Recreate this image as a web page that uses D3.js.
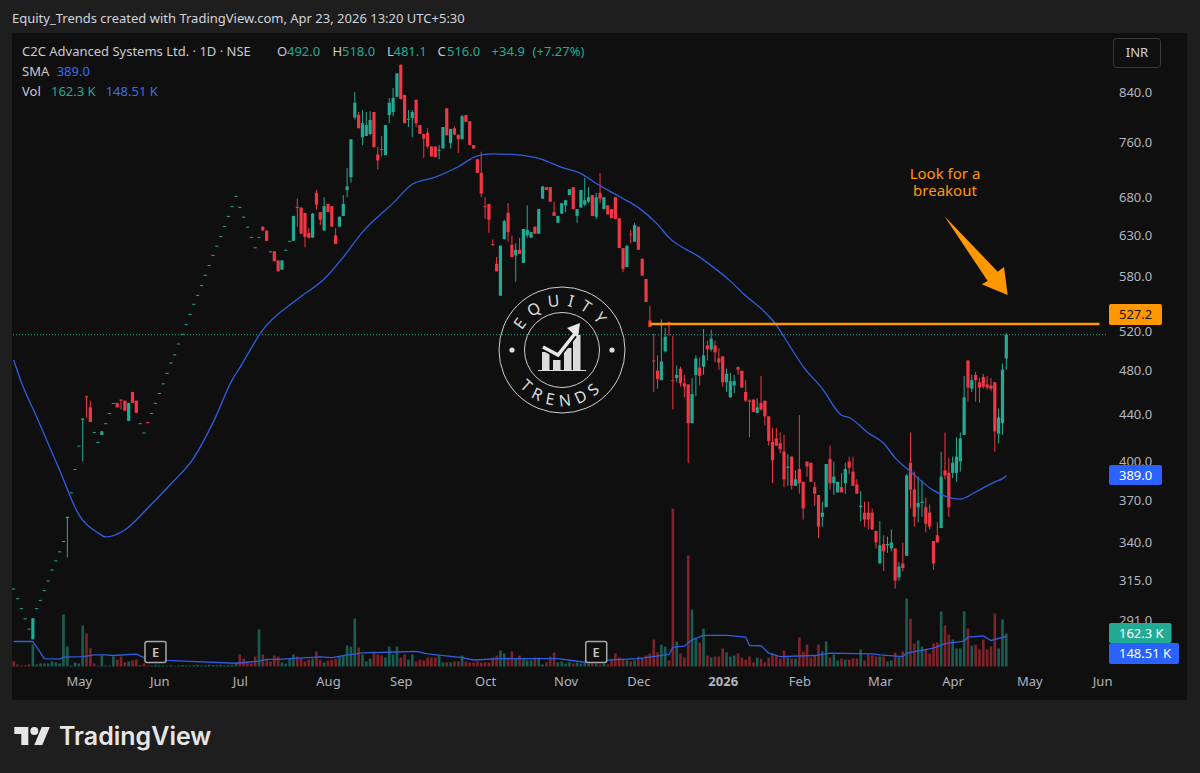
<!DOCTYPE html>
<html>
<head>
<meta charset="utf-8">
<script src="https://cdnjs.cloudflare.com/ajax/libs/d3/7.8.5/d3.min.js"></script>
<style>
  html, body { margin: 0; padding: 0; background: #1e1e1e; }
  svg { display: block; }
  text { font-family: "Noto Sans", sans-serif; }
  .tick line { display: none; }
</style>
</head>
<body>
<div class="canvas"></div>
<script>
// daily bars, index 0 = first bar on the left
const opens = [
  310,304,298,292,286,280,298,303,309,315,
  322,328,334,341,357,376,394,413,435,456,
  446,424.5,416,422,432,441,450,450,453,452,
  434,460,452,432,424,433,441,450,459,468,
  478,488,496,507,517,527,538,549,559,570,
  582,593.5,605.7,617,629,642,655,668,682,667,
  654,641,628,615,628,641,636,610,610,599,
  588,612,623,623,667,666,659,633,627,686,
  660,636,671,668,630,641,655,690,708,798,
  802,767,769,772,807,741,749,740,802,807,
  832,887,835,795,797,827,786,772,774,753,
  753,747,750,813,758,781,771,764,802,792,
  755,734,714,668,671,619,595,558,625,659,
  618,605,612,596,630,627,641,632,678,694,
  694,660,646,658,669,683,694,655,666,670,
  674,683,654,686,664,669,664,680,652,614,
  591,632,622,641,601,577,531,490,480,471,
  499,529,471,473,482,468,467,432,476,483,
  484,505,501,505,492,494,469,455,466,483.5,
  480,460,452,453,441,450,452,438,416,419,
  415,408,395,404,381,394,384,400,399,380,
  374,358,365,402,383,376,380,383,400,392,
  382,365,361,361,361,348,326,339,338,336,
  336,317,326,331,399,378,365,368,365,361,
  341,345,350,393,391,391,391,400,422,490,
  463,476,469,474,467,466,469,423,432,492
];
const highs = [
  310,304,298,292,286,292,298,303,309,315,
  322,328,334,341,358,376,394,413,436,456,
  452,424.5,416,425,432,441,450,450,453,452,
  450,460,452,432,424,433,441,450,459,468,
  478,488,496,507,517,527,538,549,559,570,
  582,593.5,605.7,617,629,642,655,668,682,667,
  654,641,628,615,628,641,636,610,610,599,
  599,612,623,655,678,666,659,639,659,690,
  660,680,671,668,639,654,683,721,764,840,
  807,810,807,808,807,752,769,786,830,847,
  872,888,835,810,810,827,786,772,781,753,
  753,755,783,813,780,784,771,802,802,792,
  755,734,745,680,671,625,603,617,650,672,
  630,620,627,638,669,634,641,664,695,694,
  694,674,655,672,676,691,694,664,690,707,
  694,683,686,714,680,669,664,680,652,614,
  617,637,646,641,601,577,547,517,495,532,
  523,529,515,485,484,476,467,473,495,493,
  522,510,521,510,502,494,482,478,476,484,
  480,471,453,453,454,475,452,438,428,428,
  424,422,406,404,393,439,384,400,399,384,
  374,369,398,413,400,384,391,399,404,404,
  386,377,369,369,364,348,355,345,344,349,
  336,327,340,390,424,392,388,385,372,367,
  341,354,408,424,403,404,420,424,475,490,
  476,479,473,477,475,473,469,445,487,518
];
const lows = [
  310,304,298,292,286,280,298,303,309,315,
  322,328,334,341,330,376,394,413,400,437,
  433,424.5,416,422,432,441,450,446,444,443,
  434,450,441,432,424,432,441,450,459,468,
  478,488,496,507,517,527,538,549,559,570,
  582,593.5,605.7,617,629,642,655,668,682,667,
  654,641,628,615,628,636,623,610,598,586,
  588,612,623,623,641,632,615,626,627,663,
  643,636,660,641,619,641,655,680,700,795,
  781,755,769,770,752,719,738,740,789,800,
  832,828,789,783,767,783,772,736,750,738,
  737,734,750,770,750,771,743,764,791,755,
  750,714,680,651,633,617,586,558,625,622,
  603,574,607,596,627,627,632,632,678,690,
  674,655,646,658,660,683,664,646,666,668,
  672,655,651,672,664,657,652,651,614,585,
  591,620,622,612,581,551,524,460,463,471,
  498,515,444,469,465,455,399,432,456,466,
  476,490,499,488,481,465,460,455,459,476,
  464,451,420,442,441,443,430,413,383,413,
  407,380,381,378,381,375,356,388,384,366,
  343,351,365,378,374,376,376,375,390,381,
  375,355,351,349,349,336,326,321,333,334,
  310,315,321,331,364,351,354,358,347,349,
  322,340,350,386,358,387,384,392,422,451,
  460,451,450,463,462,461,408,415,422,481
];
const closes = [
  310,304,298,292,286,292,298,303,309,315,
  322,328,334,341,358,376,394,413,436,455,
  433,424.5,416,425,432,441,450,446,452,443,
  450,450,441,432,424,432,441,450,459,468,
  478,488,496,507,517,527,538,549,559,570,
  582,593.5,605.7,617,629,642,655,668,682,667,
  654,641,628,615,628,636,623,610,598,586,
  599,612,623,655,666,632,628,627,658,670,
  650,668,660,641,619,654,671,695,764,822,
  781,789,786,794,752,732,748,786,822,830,
  872,828,789,796,807,789,772,765,753,738,
  737,748,783,770,780,771,764,800,791,755,
  750,714,685,667,650,618,586,617,648,634,
  603,612,607,638,637,634,632,664,695,690,
  674,655,655,672,676,691,664,664,690,676,
  680,655,680,678,680,657,652,651,614,589,
  617,631,643,612,581,551,524,489,472,489,
  514,528,470,476,468,465,432,458,492,475,
  495,501,512,498,488,469,477,470,470,481,
  464,452,451,442,446,444,438,417,401,413,
  410,386,396,381,386,383,364,396,384,375,
  351,361,398,383,388,384,376,394,395,381,
  375,366,356,356,349,340,338,334,339,340,
  315,324,323,389,378,358,368,369,353,351,
  326,340,388,389,365,399,404,419,455,464,
  471,471,464,465,464,463,425,437,481,516
];
// volume in thousands
const volumes = [
  25,10,5,5,10,108,10,15,15,15,
  25,20,15,256,98,5,20,15,202,162,
  89,15,5,54,5,5,49,34,49,20,
  25,30,34,7,15,5,5,8,6,5,
  4,6,3,5,7,5,4,6,8,5,
  6,9,7,6,8,5,7,9,12,59,
  39,20,15,49,182,59,34,25,54,49,
  20,15,39,59,49,39,25,34,39,74,
  34,20,30,34,39,49,54,103,98,236,
  93,59,25,39,74,59,54,44,98,59,
  98,44,59,34,59,25,34,30,44,44,
  44,54,20,20,20,25,25,54,25,20,
  20,25,20,20,20,44,54,79,64,44,
  74,39,54,34,30,30,44,44,10,20,
  49,69,20,25,15,20,15,20,15,25,
  15,15,15,10,15,10,34,64,44,34,
  30,25,30,49,44,54,64,133,69,108,
  98,30,777,123,64,44,546,280,138,118,
  187,54,44,49,49,89,69,49,54,64,
  44,34,49,20,44,39,20,44,64,54,
  39,79,44,39,39,143,74,108,44,54,
  108,74,123,44,59,30,39,34,34,39,
  39,84,30,59,54,49,49,49,25,30,
  69,49,74,335,236,113,128,98,84,64,
  113,118,271,202,157,133,89,89,271,187,
  103,108,84,133,84,98,261,89,231,162.3
];

// moving averages, read at the bars where the line bends
const smaBars = [0,2,6,12,17,22,24,29,35,41,47,52,57,59,65,74,81,86,91,99,104,110,116,121,125,130,138,143,148,152,158,163,168,171,179,187,191,196,199,202,206,211,216,218,223,227,230,234,240,245,247,251,256,258,259];
const smaValues = [490.5,469,437.5,393,359.5,346.6,343.8,348.6,364.4,382.4,403,432.5,471,483,521,554,577,603,634,672,698,708,723,739,742,741,733.5,722,713,699,681,666,644,627,603,574.6,558,540,526,507.5,484,463,439,437,423.6,415,403,392,377.5,371.5,371,376.3,384,386.5,389];
const volSmaBars = [0,5,8,12,13,18,21,24,26,32,34,40,46,58,64,66,69,80,83,86,91,98,105,108,117,120,127,142,149,156,163,171,172,175,177,180,186,191,192,195,197,200,209,213,224,226,232,233,240,243,248,249,253,255,259];
const volSmaValues = [123,123,39,36,46,49,57,57,54,61,44,30,25,16,26,35,35,47,44,53,67,70,74,62,44,32,39,39,21,33,39,59,95,100,131,153,153,144,103,102,66,49,54,66,62,57,49,66,90,112,125,144,150,128,148.5];

// axis labels
const priceTicks = [840,760,680,630,580,520,480,440,400,370,340,315,291];
const timeTickBars = [17,38,59,82,101,123,144,163,185,205,226,245,265,284];
const timeTickLabels = ['May','Jun','Jul','Aug','Sep','Oct','Nov','Dec','2026','Feb','Mar','Apr','May','Jun'];
const earningsBars = [37,152];
const levelPrice = 527.2;
const levelStartBar = 166;
const levelEndBar = 283.3;
const lastClose = 516;

const green = '#22ab94';
const red = '#f23645';
const blue = '#2962ff';
const orange = '#ff9800';
const axisText = '#b2b5be';
const panel = '#0f0f0f';

const svg = d3
  .select('.canvas')
  .append('svg')
  .attr('width', 1200)
  .attr('height', 773);

svg.append('rect').attr('width', 1200).attr('height', 773).attr('fill', '#1e1e1e');
svg.append('rect').attr('x', 12).attr('y', 33).attr('width', 1175).attr('height', 667).attr('fill', panel);

// scales
const x = d3.scaleLinear().domain([0, 259]).range([13.7, 1006.3]);
const y = d3.scaleLog().domain([840, 291]).range([92, 620]);
const v = d3.scaleLinear().domain([0, 777]).range([666.5, 508.5]);

const bars = d3.range(opens.length);
const isUp = i => closes[i] >= opens[i];
// flat bars take the volume colour from the previous close
const volUp = i => {
  if (closes[i] !== opens[i] || i === 0) return i === 0 ? false : closes[i] > opens[i];
  return closes[i] >= closes[i - 1];
};

// axes
const priceAxis = d3.axisRight(y).tickValues(priceTicks).tickFormat(d3.format('.1f')).tickSize(0).tickPadding(0);
svg.append('g')
  .attr('transform', 'translate(1119,0)')
  .call(priceAxis)
  .call(g => g.select('.domain').remove())
  .selectAll('text')
  .attr('fill', axisText)
  .attr('font-size', 13);

const timeAxis = d3.axisBottom(x)
  .tickValues(timeTickBars)
  .tickFormat((d, i) => timeTickLabels[i])
  .tickSize(0)
  .tickPadding(0);
svg.append('g')
  .attr('transform', 'translate(0,677)')
  .call(timeAxis)
  .call(g => g.select('.domain').remove())
  .selectAll('text')
  .attr('fill', axisText)
  .attr('font-size', 13)
  .attr('font-weight', (d, i) => (timeTickLabels[i] === '2026' ? 700 : 400));

// volume bars
svg.append('g')
  .selectAll('rect')
  .data(bars)
  .enter()
  .append('rect')
  .attr('x', i => x(i) - 1.3)
  .attr('width', 2.6)
  .attr('y', i => v(volumes[i]))
  .attr('height', i => v(0) - v(volumes[i]))
  .attr('fill', i => (volUp(i) ? green : red))
  .attr('fill-opacity', 0.5);

// last price line
svg.append('line')
  .attr('x1', 13).attr('x2', 1108)
  .attr('y1', y(lastClose)).attr('y2', y(lastClose))
  .attr('stroke', green)
  .attr('stroke-width', 1)
  .attr('stroke-dasharray', '1 2');

// watermark goes under the candles
const mark = svg.append('g').attr('transform', 'translate(562,350)');
mark.append('circle').attr('r', 63).attr('fill', 'none').attr('stroke', '#cfcfcf').attr('stroke-width', 1);
mark.append('circle').attr('r', 37.5).attr('fill', 'none').attr('stroke', '#cfcfcf').attr('stroke-width', 1);
mark.selectAll('.dot').data([-50, 50]).enter().append('circle')
  .attr('cx', d => d).attr('r', 2.6).attr('fill', '#dcdcdc');
mark.append('path').attr('id', 'arcTop').attr('fill', 'none').attr('d', 'M-44,0 A44,44 0 0 1 44,0');
mark.append('path').attr('id', 'arcBottom').attr('fill', 'none').attr('d', 'M-56,0 A56,56 0 0 0 56,0');
[['#arcTop', 'EQUITY', 7], ['#arcBottom', 'TRENDS', 6]].forEach(d => {
  mark.append('text')
    .attr('fill', '#dcdcdc')
    .attr('font-size', 16)
    .attr('letter-spacing', d[2])
    .attr('text-anchor', 'middle')
    .append('textPath')
    .attr('href', d[0])
    .attr('startOffset', '50%')
    .text(d[1]);
});
mark.selectAll('.icon').data([[-20, 2, 18], [-9, 10, 10], [2, -2, 22], [11, -15, 35]]).enter().append('rect')
  .attr('x', d => d[0]).attr('y', d => d[1]).attr('width', 7.5).attr('height', d => d[2])
  .attr('fill', '#dcdcdc');
mark.append('line').attr('x1', -24).attr('x2', 24).attr('y1', 20.5).attr('y2', 20.5).attr('stroke', '#dcdcdc');
mark.append('path').attr('d', 'M-19,-3 L-4,5 L15,-19').attr('fill', 'none').attr('stroke', panel).attr('stroke-width', 7);
mark.append('path').attr('d', 'M-19,-3 L-4,5 L15,-19').attr('fill', 'none').attr('stroke', '#e8e8e8').attr('stroke-width', 3.5);
mark.append('path').attr('d', 'M18,-27 L5,-22 L16,-12 Z').attr('fill', '#e8e8e8');

// candles
const candles = svg.append('g');
candles.selectAll('.wick')
  .data(bars)
  .enter()
  .append('line')
  .attr('x1', i => x(i))
  .attr('x2', i => x(i))
  .attr('y1', i => y(highs[i]))
  .attr('y2', i => y(lows[i]))
  .attr('stroke', i => (isUp(i) ? green : red))
  .attr('stroke-width', 1);
candles.selectAll('.body')
  .data(bars)
  .enter()
  .append('rect')
  .attr('x', i => x(i) - 1.6)
  .attr('width', 3.2)
  .attr('y', i => y(Math.max(opens[i], closes[i])))
  .attr('height', i => Math.max(1, Math.abs(y(opens[i]) - y(closes[i]))))
  .attr('fill', i => (isUp(i) ? green : red));

// moving averages
const smaLine = d3.line().x(d => x(d[0])).y(d => y(d[1])).curve(d3.curveMonotoneX);
svg.append('path')
  .attr('d', smaLine(d3.zip(smaBars, smaValues)))
  .attr('fill', 'none')
  .attr('stroke', '#2f5fe0')
  .attr('stroke-width', 1.3);

const volSmaLine = d3.line().x(d => x(d[0])).y(d => v(d[1])).curve(d3.curveLinear);
svg.append('path')
  .attr('d', volSmaLine(d3.zip(volSmaBars, volSmaValues)))
  .attr('fill', 'none')
  .attr('stroke', '#2f5fe0')
  .attr('stroke-width', 1.3);

// earnings flags
const flags = svg.append('g').selectAll('g').data(earningsBars).enter().append('g')
  .attr('transform', d => `translate(${x(d)},652)`);
flags.append('rect')
  .attr('x', -10.5).attr('y', -10.5).attr('width', 21).attr('height', 21).attr('rx', 2)
  .attr('fill', panel).attr('stroke', '#a8a8a8').attr('stroke-width', 1.5);
flags.append('text')
  .attr('text-anchor', 'middle').attr('dy', 4.5).attr('font-size', 13).attr('font-weight', 600)
  .attr('fill', '#c4c4c4').text('E');

// drawn level and callout
svg.append('line')
  .attr('x1', x(levelStartBar)).attr('x2', x(levelEndBar))
  .attr('y1', y(levelPrice)).attr('y2', y(levelPrice))
  .attr('stroke', orange)
  .attr('stroke-width', 2.6);
svg.append('path')
  .attr('d', 'M944.3,216 L997.7,271.7 L1004,267 L1007.7,295 L981.7,284.3 L987.7,281 Z')
  .attr('fill', orange);
[['Look for a', 179], ['breakout', 196]].forEach(d => {
  svg.append('text')
    .attr('x', 945).attr('y', d[1])
    .attr('text-anchor', 'middle')
    .attr('font-size', 15)
    .attr('fill', orange)
    .text(d[0]);
});

// price tags on the right
const tags = [
  { label: '527.2', top: 304, w: 53, h: 21, fill: orange, color: '#1a1208' },
  { label: '389.0', top: 465, w: 53, h: 20, fill: blue, color: '#ffffff' },
  { label: '162.3 K', top: 623, w: 62.5, h: 20, fill: green, color: '#ffffff' },
  { label: '148.51 K', top: 643, w: 70, h: 21, fill: blue, color: '#ffffff' }
];
tags.forEach(t => {
  svg.append('rect')
    .attr('x', 1109).attr('y', t.top).attr('width', t.w).attr('height', t.h).attr('rx', 2)
    .attr('fill', t.fill);
  svg.append('text')
    .attr('x', 1119).attr('y', t.top + t.h / 2 + 4.5)
    .attr('font-size', 13)
    .attr('fill', t.color)
    .text(t.label);
});

// currency button
svg.append('rect')
  .attr('x', 1113.5).attr('y', 38.5).attr('width', 47).attr('height', 29).attr('rx', 3)
  .attr('fill', 'none').attr('stroke', '#3a3a3a');
svg.append('text').attr('x', 1137).attr('y', 57).attr('text-anchor', 'middle')
  .attr('font-size', 13).attr('fill', '#d1d4dc').text('INR');

// header and legend
const writeText = (txt, tx, ty, fill, size) =>
  svg.append('text').attr('x', tx).attr('y', ty).attr('font-size', size || 13).attr('fill', fill).text(txt);

writeText('Equity_Trends created with TradingView.com, Apr 23, 2026 13:20 UTC+5:30', 12, 23, '#d1d4dc');
writeText('C2C Advanced Systems Ltd. · 1D · NSE', 22, 56, '#c8cbd3');
const ohlc = [['O', '492.0', 277, 287], ['H', '518.0', 332.6, 342], ['L', '481.1', 387, 393.5], ['C', '516.0', 437.5, 447]];
ohlc.forEach(d => {
  writeText(d[0], d[2], 56, '#c8cbd3');
  writeText(d[1], d[3], 56, green);
});
writeText('+34.9', 491.6, 56, green);
writeText('(+7.27%)', 532.6, 56, green);
writeText('SMA', 22, 76, '#c8cbd3');
writeText('389.0', 56.7, 76, '#3a6ee8');
writeText('Vol', 22, 96, '#c8cbd3');
writeText('162.3 K', 51, 96, green);
writeText('148.51 K', 105.7, 96, '#3a6ee8');

// footer logo
svg.append('path')
  .attr('transform', 'translate(14.3,723)')
  .attr('d', 'M14 22H7V11H0V4h14v18ZM28 22h-8l7.5-18h8L28 22Z M24 8a4 4 0 1 1-8 0a4 4 0 0 1 8 0Z')
  .attr('fill', '#e6e6e6');
svg.append('text')
  .attr('x', 59).attr('y', 745)
  .attr('font-family', 'Inter, sans-serif')
  .style('font-family', 'Inter, sans-serif')
  .attr('font-size', 25)
  .attr('font-weight', 600)
  .attr('fill', '#e6e6e6')
  .text('TradingView');
</script>
</body>
</html>
